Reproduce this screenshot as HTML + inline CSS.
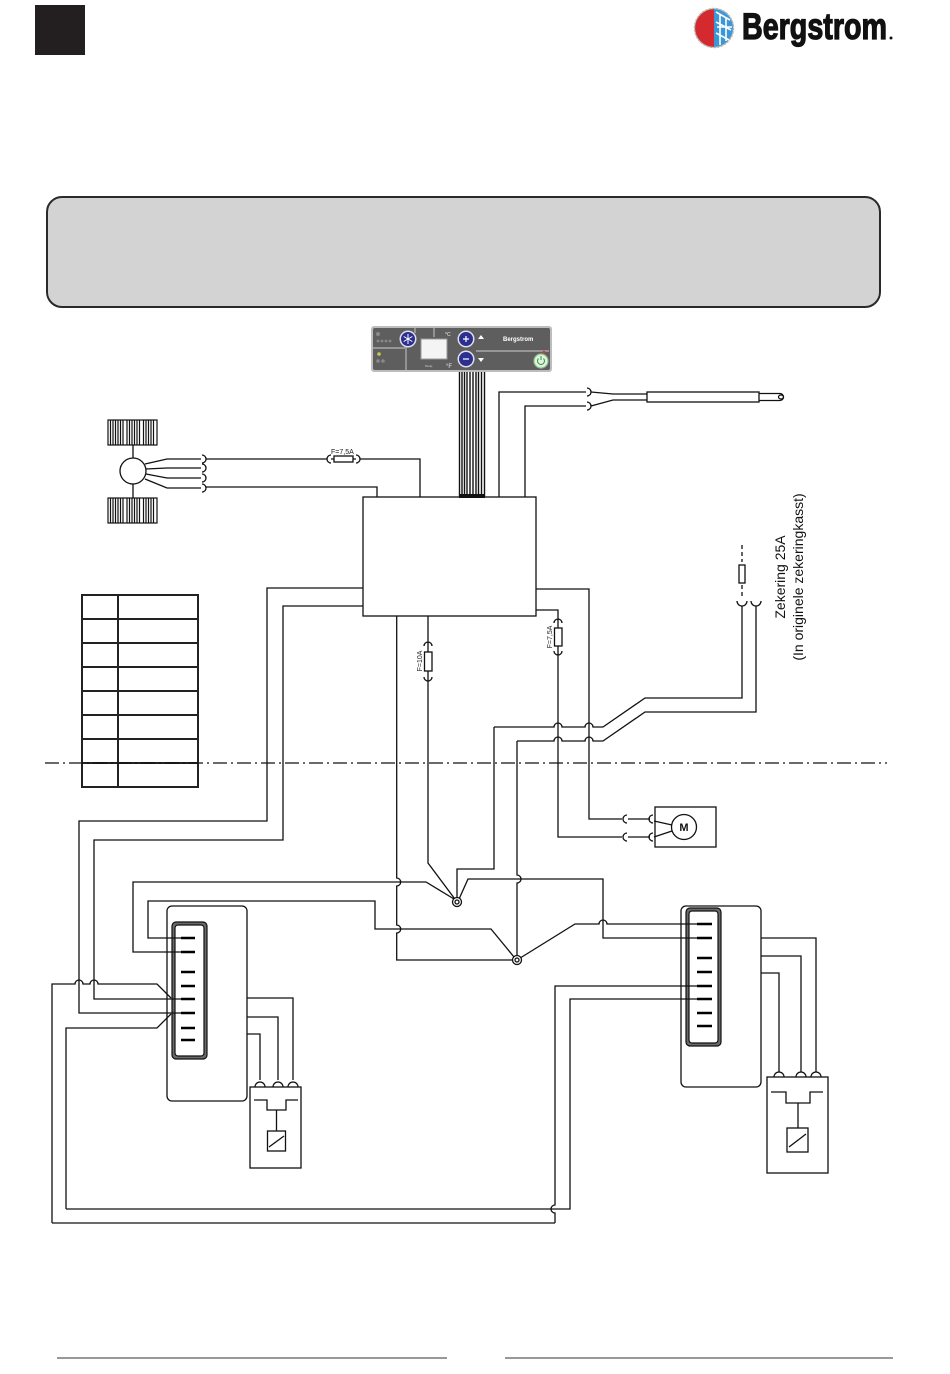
<!DOCTYPE html>
<html><head><meta charset="utf-8">
<style>
html,body{margin:0;padding:0;background:#fff;}
svg{display:block;}
text{font-family:"Liberation Sans",sans-serif;}
</style></head><body>
<svg width="950" height="1374" viewBox="0 0 950 1374" xmlns="http://www.w3.org/2000/svg">
<!-- top-left black square -->
<rect x="35" y="5" width="50" height="50" fill="#231f20"/>

<!-- logo -->
<g>
  <circle cx="714" cy="28" r="20" fill="#c9c9c9"/>
  <path d="M714,9 A19,19 0 0 0 714,47 Z" fill="#d42a2f"/>
  <path d="M714,9 A19,19 0 0 1 714,47 Z" fill="#3b97d6"/>
  <circle cx="714" cy="28" r="19.5" fill="none" stroke="#b5b5b5" stroke-width="1.4" stroke-dasharray="2 1.6"/>
  <g stroke="#fff" stroke-width="1.6" fill="none">
    <path d="M716,12 L730,20 M716,22 L731,30 M716,33 L729,40 M720,15 L720,45 M726,17 L726,41 M717,27 H732"/>
  </g>
  <text x="742" y="39" font-family="'Liberation Sans Narrow','Liberation Sans',sans-serif" font-weight="bold" font-size="37" textLength="145" lengthAdjust="spacingAndGlyphs" fill="#111" stroke="#111" stroke-width="1.3">Bergstrom</text>
  <circle cx="891" cy="38" r="1.5" fill="#111"/>
</g>

<!-- info box -->
<rect x="47" y="197" width="833" height="110" rx="15" fill="#d3d3d3" stroke="#2a2a2a" stroke-width="2"/>

<!-- control panel -->
<g>
  <rect x="371" y="326" width="181" height="46" rx="3" fill="#bdbdbd"/>
  <rect x="373" y="328" width="177" height="42" rx="2" fill="#5e5e5e"/>
  <g stroke="#a8a8a8" stroke-width="1.4" fill="none">
    <path d="M373,348 H405 M406,346 V370 M434,328 V337 M476,351 H549 M415,328 V333"/>
  </g>
  <g fill="#8a8a8a">
    <circle cx="378" cy="334" r="2"/>
    <circle cx="378" cy="341" r="1.4"/><circle cx="382" cy="341" r="1.4"/><circle cx="386" cy="341" r="1.4"/><circle cx="390" cy="341" r="1.4"/>
    <circle cx="378" cy="361" r="1.8"/><circle cx="383" cy="361" r="1.8"/>
  </g>
  <circle cx="379" cy="354" r="1.8" fill="#c9c94a"/>
  <circle cx="408" cy="339" r="8.5" fill="#e0e0e8"/>
  <circle cx="408" cy="339" r="7" fill="#2c2f8f"/>
  <g stroke="#fff" stroke-width="1"><path d="M408,334 V344 M403.7,336.5 L412.3,341.5 M403.7,341.5 L412.3,336.5"/></g>
  <rect x="421" y="339" width="26" height="20" fill="#f4f4f4" stroke="#9a9a9a" stroke-width="1"/>
  <text x="425" y="367" font-size="3" fill="#ddd">Temp</text>
  <text x="445" y="336" font-size="5" fill="#eee">°C</text>
  <text x="446" y="368" font-size="6" fill="#eee">°F</text>
  <circle cx="466" cy="339" r="8.5" fill="#e0e0e8"/>
  <circle cx="466" cy="339" r="7" fill="#2c2f8f"/>
  <path d="M463,339 H469 M466,336 V342" stroke="#fff" stroke-width="1.2"/>
  <circle cx="466" cy="359" r="8.5" fill="#e0e0e8"/>
  <circle cx="466" cy="359" r="7" fill="#2c2f8f"/>
  <path d="M463,359 H469" stroke="#fff" stroke-width="1.2"/>
  <path d="M478,339 L481,335 L484,339 Z" fill="#fff"/>
  <path d="M478,358 L481,362 L484,358 Z" fill="#fff"/>
  <text x="503" y="341" font-size="6" font-weight="bold" fill="#fff">Bergstrom</text>
  <circle cx="544" cy="352" r="1.3" fill="#d33"/>
  <circle cx="541" cy="361" r="7" fill="#e2f2e2" stroke="#8bc48b" stroke-width="1.2"/>
  <path d="M538.5,358.5 A3.5,3.5 0 1 0 543.5,358.5 M541,356 V360" stroke="#2a9a2a" stroke-width="1" fill="none"/>
</g>

<!-- cable bundle -->
<g stroke="#111" stroke-width="1.4">
  <path d="M459.5,372 V497 M462,372 V497 M464.5,372 V497 M467,372 V497 M470,372 V497 M473,372 V497 M476,372 V497 M478.5,372 V497 M481.5,372 V497 M484.5,372 V497"/>
</g>
<rect x="459" y="494" width="26" height="4" fill="#111"/>

<g fill="none" stroke="#111" stroke-width="1.3">
  <!-- fan -->
  <circle cx="133" cy="471" r="13"/>
  <path d="M133,445 V458 M133,484 V498"/>
  <path d="M145,464 L167,459 H201 M146,469 L167,468 H201 M146,474 L167,478 H201 M145,479 L167,488 H201"/>
  <path d="M202,455 A4,4 0 0 1 202,463 M202,464 A4,4 0 0 1 202,472 M202,474 A4,4 0 0 1 202,482 M202,484 A4,4 0 0 1 202,492"/>
  <path d="M206,459 H327 M331,455 A4,4 0 0 0 331,463 M331,459 H356 M356,455 A4,4 0 0 1 356,463 M360,459 H420 V497"/>
  <rect x="334" y="456" width="19" height="6" fill="#fff"/>
  <path d="M206,487 H377 V497"/>

  <!-- controller box -->
  <rect x="363" y="497" width="173" height="119"/>

  <!-- sensor -->
  <path d="M499,497 V392 H586 M525,497 V406 H586"/>
  <path d="M587,388 A4,4 0 0 1 587,396 M587,402 A4,4 0 0 1 587,410"/>
  <path d="M591,392 L613,394 H647 M591,406 L613,400 H647"/>
  <rect x="647" y="392" width="112" height="10"/>
  <path d="M759,393.5 H780 A3.5,3.5 0 0 1 780,400.5 H759"/>
  <ellipse cx="781" cy="397" rx="2.5" ry="2"/>

  <!-- left lines from box -->
  <path d="M363,588 H267 V821 H79 V1013 H181"/>
  <path d="M363,606 H283 V840 H94 V999 H181"/>
  <path d="M52,1223 V984 H75 A4,4 0 0 1 83,984 H90 A4,4 0 0 1 98,984 H157 L171,998"/>
  <path d="M66,1209 V1028 H157 L171,1014"/>
  <path d="M52,1223 H555"/>
  <path d="M66,1209 H570 V999 H697"/>
  <path d="M555,1223 V1213 A4,4 0 0 1 555,1205 V986 H697"/>

  <!-- box bottom verticals -->
  <path d="M396.7,616 V878 A4,4 0 0 1 396.7,886 V925 A4,4 0 0 1 396.7,933 V960 H512.5"/>
  <path d="M428,616 V646 M424,646 A4,4 0 0 1 432,646 M424,677 A4,4 0 0 0 432,677 M428,646 V677 M428,677 V863 L454.5,898.5"/>
  <rect x="424.5" y="652" width="7.5" height="19" fill="#fff"/>

  <!-- left relay top wires -->
  <path d="M181,952 H133 V882 H426 L454,899"/>
  <path d="M181,938 H148 V901 H375 V929 H491 L514,957"/>

  <!-- center -->
  <path d="M494,727 V869 H457 V897.5"/>
  <path d="M517,741 V875 A4,4 0 0 1 517,883 V955.5"/>
  <path d="M697,938 H603 V879 H468 L459.5,898"/>
  <path d="M697,924 H607 A4,4 0 0 0 599,924 H575 L521,957.5"/>
  <circle cx="457" cy="902" r="4.5"/><circle cx="457" cy="902" r="2"/>
  <circle cx="517" cy="960" r="4.5"/><circle cx="517" cy="960" r="2"/>

  <!-- power feed lines -->
  <path d="M494,727 H554 A4,4 0 0 1 562,727 H585 A4,4 0 0 1 593,727 H603 L645,698 H742 V606"/>
  <path d="M517,741 H554 A4,4 0 0 1 562,741 H585 A4,4 0 0 1 593,741 H603 L645,712 H756 V606"/>
  <path d="M737,601 A5,5 0 0 0 747,601 M751,601 A5,5 0 0 0 761,601"/>
  <path d="M742,545 V562 M742,585 V599" stroke-dasharray="4 3"/>
  <rect x="739" y="565" width="6" height="18"/>

  <!-- right side of box -->
  <path d="M536,589 H589 V819 H622"/>
  <path d="M536,610 H558 V623 M554,623 A4,4 0 0 1 562,623 M558,623 V651 M554,651 A4,4 0 0 0 562,651 M558,651 V837 H622"/>
  <rect x="554.5" y="628" width="7.5" height="18" fill="#fff"/>

  <!-- motor -->
  <path d="M627,815 A4,4 0 0 0 627,823 M627,833 A4,4 0 0 0 627,841"/>
  <path d="M628,819 H650 M628,837 H650"/>
  <path d="M653,815 A4,4 0 0 0 653,823 M653,833 A4,4 0 0 0 653,841"/>
  <rect x="655" y="807" width="61" height="40"/>
  <circle cx="684" cy="827" r="12.5"/>
  <path d="M654,821 L672,825 M654,837 L672,831"/>

  <!-- left relay -->
  <rect x="167" y="906" width="80" height="195" rx="5"/>
  <path d="M247,998 H293 V1080 M247,1017 H278 V1080 M247,1034 H260 V1080"/>
  <path d="M255,1087 A5,5 0 0 1 265,1087 M273,1087 A5,5 0 0 1 283,1087 M288,1087 A5,5 0 0 1 298,1087"/>
  <rect x="250" y="1087" width="51" height="81"/>
  <path d="M254,1100 H267 V1110 H286 V1100 H298 M276.5,1110 V1131"/>
  <rect x="267.5" y="1131" width="18" height="20"/>
  <path d="M269,1147 L284,1136"/>

  <!-- right relay -->
  <rect x="681" y="906" width="80" height="181" rx="5"/>
  <path d="M761,938 H816 V1072 M761,956 H801 V1072 M761,973 H779 V1072"/>
  <path d="M774,1077 A5,5 0 0 1 784,1077 M796,1077 A5,5 0 0 1 806,1077 M811,1077 A5,5 0 0 1 821,1077"/>
  <rect x="767" y="1077" width="61" height="96"/>
  <path d="M771,1092 H786 V1103 H810 V1092 H823 M798,1103 V1128"/>
  <rect x="787" y="1128" width="21" height="24"/>
  <path d="M789,1147 L806,1134"/>
</g>

<!-- relay connector blocks -->
<g>
  <rect x="172" y="922" width="35" height="137" rx="4" fill="#6a6a6a" stroke="#111" stroke-width="1.2"/>
  <rect x="175" y="925" width="29" height="131" rx="3" fill="#fff" stroke="#111" stroke-width="1.2"/>
  <rect x="686" y="908" width="35" height="138" rx="4" fill="#6a6a6a" stroke="#111" stroke-width="1.2"/>
  <rect x="689" y="911" width="29" height="132" rx="3" fill="#fff" stroke="#111" stroke-width="1.2"/>
</g>
<g fill="none" stroke="#111" stroke-width="1.3">
  <path d="M172,938 H181 M172,952 H181 M172,999 H181 M172,1013 H181"/>
  <path d="M686,924 H697 M686,938 H697 M686,986 H697 M686,999 H697"/>
</g>
<g stroke="#000" stroke-width="2.6">
  <path d="M181,938 H195 M181,952 H195 M181,972 H195 M181,986 H195 M181,999 H195 M181,1013 H195 M181,1028 H195 M181,1040 H195"/>
  <path d="M697,924 H712 M697,938 H712 M697,958 H712 M697,972 H712 M697,986 H712 M697,999 H712 M697,1013 H712 M697,1026 H712"/>
</g>

<!-- fan coils -->
<g fill="none" stroke="#111" stroke-width="1.2">
  <rect x="108" y="420" width="49" height="25"/>
  <rect x="108" y="498" width="49" height="25"/>
  <path d="M110.5,420 V445 M113,420 V445 M115.5,420 V445 M118,420 V445 M120.5,420 V445 M123,420 V445 M127,420 V445 M129.5,420 V445 M132,420 V445 M134.5,420 V445 M137,420 V445 M139.5,420 V445 M143.5,420 V445 M146,420 V445 M148.5,420 V445 M151,420 V445 M153.5,420 V445"/>
  <path d="M110.5,498 V523 M113,498 V523 M115.5,498 V523 M118,498 V523 M120.5,498 V523 M123,498 V523 M127,498 V523 M129.5,498 V523 M132,498 V523 M134.5,498 V523 M137,498 V523 M139.5,498 V523 M143.5,498 V523 M146,498 V523 M148.5,498 V523 M151,498 V523 M153.5,498 V523"/>
</g>

<!-- table -->
<g fill="none" stroke="#222" stroke-width="2">
  <rect x="82" y="595" width="116" height="192"/>
  <path d="M118,595 V787 M82,619 H198 M82,643 H198 M82,667 H198 M82,691 H198 M82,715 H198 M82,739 H198 M82,763 H198"/>
</g>

<!-- dash-dot separator -->
<path d="M45,763 H887" stroke="#111" stroke-width="1.2" stroke-dasharray="14 4 2 4" fill="none"/>

<!-- labels -->
<text x="331" y="454" font-size="7" fill="#222">F=7,5A</text>
<text transform="translate(422,661) rotate(-90)" text-anchor="middle" font-size="7" fill="#222">F=10A</text>
<text transform="translate(552,637) rotate(-90)" text-anchor="middle" font-size="7" fill="#222">F=7,5A</text>
<text x="684" y="831" text-anchor="middle" font-size="11" font-weight="bold" fill="#111">M</text>
<text transform="translate(785,577) rotate(-90)" text-anchor="middle" font-size="14" fill="#111">Zekering 25A</text>
<text transform="translate(803,577) rotate(-90)" text-anchor="middle" font-size="14" fill="#111">(In originele zekeringkasst)</text>

<!-- footer lines -->
<path d="M57,1358 H447 M505,1358 H893" stroke="#333" stroke-width="1" fill="none"/>
</svg>
</body></html>
